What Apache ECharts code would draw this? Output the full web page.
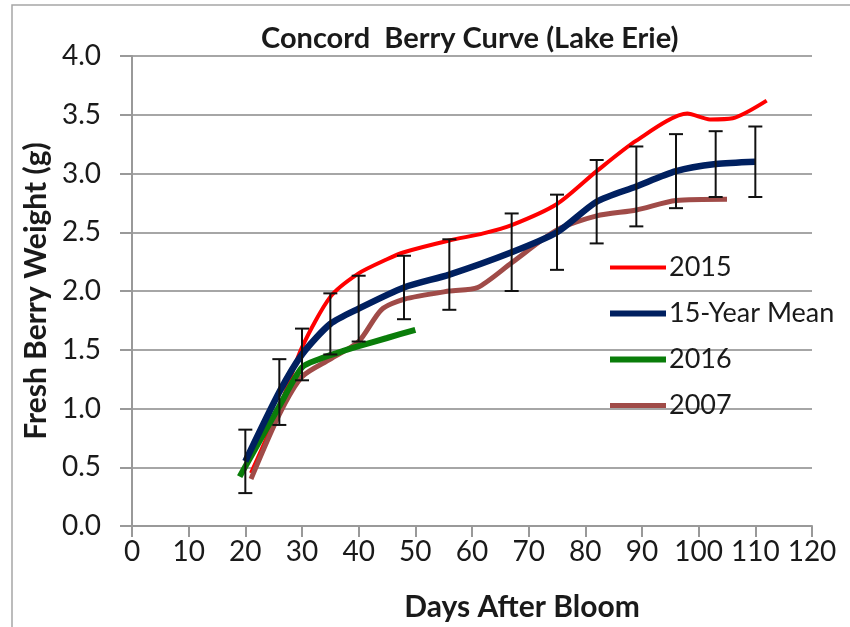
<!DOCTYPE html>
<html>
<head>
<meta charset="utf-8">
<script src="https://cdn.jsdelivr.net/npm/echarts@6/dist/echarts.min.js"></script>
<style>
html,body{margin:0;padding:0;background:#fff;}
#chart{width:850px;height:627px;}
</style>
</head>
<body>
<div id="chart"></div>
<script>
// ---- data ----
var xTicks = [0, 120, 10];          // min, max, step of Days After Bloom
var yTicks = [0, 4, 0.5];           // min, max, step of weight
var seriesNames = ['2015', '15-Year Mean', '2016', '2007'];

var meanDays = [20, 26, 30, 35, 40, 48, 56, 67, 75, 82, 89, 96, 103, 110];
var meanVals = [0.55, 1.14, 1.46, 1.72, 1.85, 2.03, 2.14, 2.33, 2.50, 2.76, 2.89, 3.02, 3.08, 3.10];
var meanErr  = [0.27, 0.28, 0.22, 0.26, 0.28, 0.27, 0.30, 0.33, 0.32, 0.355, 0.34, 0.315, 0.28, 0.30];

var days2015 = [21, 26, 30, 35, 40, 45, 48, 56, 62, 67, 75, 82, 89, 98, 102, 106, 112];
var vals2015 = [0.45, 1.00, 1.52, 1.95, 2.15, 2.27, 2.33, 2.43, 2.49, 2.56, 2.74, 3.02, 3.28, 3.51, 3.46, 3.47, 3.62];

var days2016 = [19, 26, 30, 33, 36, 40, 45, 50];
var vals2016 = [0.42, 1.02, 1.35, 1.42, 1.47, 1.53, 1.60, 1.67];

var days2007 = [21, 26, 30, 35, 40, 44, 48, 56, 61, 67, 75, 82, 89, 96, 105];
var vals2007 = [0.40, 0.95, 1.27, 1.42, 1.57, 1.84, 1.93, 2.00, 2.03, 2.24, 2.52, 2.64, 2.69, 2.77, 2.78];

function pairs(xs, ys) { return xs.map(function (x, i) { return [x, ys[i]]; }); }

var FONT = 'Lato, "Open Sans", sans-serif';
var chart = echarts.init(document.getElementById('chart'), null, {renderer: 'canvas'});

var errData = meanDays.map(function (d, i) { return [d, meanVals[i] - meanErr[i], meanVals[i] + meanErr[i]]; });

chart.setOption({
  animation: false,
  backgroundColor: '#fff',
  graphic: [{
    type: 'rect', shape: {x: 12, y: 5, width: 900, height: 700},
    style: {fill: 'none', stroke: '#a6a6a6', lineWidth: 1.5}, silent: true, z: -1
  }],
  title: {
    text: 'Concord  Berry Curve (Lake Erie)',
    left: 256, top: 19,
    textStyle: {fontFamily: FONT, fontSize: 29, fontWeight: 'bold', color: '#1a1a1a'}
  },
  legend: {
    orient: 'vertical',
    left: 602, top: 249,
    itemWidth: 56, itemHeight: 20, itemGap: 19,
    itemStyle: {opacity: 0, borderWidth: 0},
    textStyle: {fontFamily: FONT, fontSize: 27, color: '#1a1a1a', lineHeight: 27, padding: [0, 0, 0, -2]},
    data: [
      {name: seriesNames[0], lineStyle: {width: 4}},
      {name: seriesNames[1], lineStyle: {width: 6}},
      {name: seriesNames[2], lineStyle: {width: 6}},
      {name: seriesNames[3], lineStyle: {width: 5}}
    ]
  },
  grid: {left: 132, right: 38, top: 56, bottom: 101},
  xAxis: {
    type: 'value', min: xTicks[0], max: xTicks[1], interval: xTicks[2],
    name: 'Days After Bloom', nameLocation: 'middle', nameGap: 66,
    nameTextStyle: {fontFamily: FONT, fontSize: 30, fontWeight: 'bold', color: '#1a1a1a', padding: [0, 0, 0, 100]},
    axisLine: {show: true, lineStyle: {color: '#999', width: 2}},
    axisTick: {show: true, length: 11, lineStyle: {color: '#999', width: 2}},
    axisLabel: {fontFamily: FONT, fontSize: 28, color: '#1a1a1a', margin: 12},
    splitLine: {show: false}
  },
  yAxis: {
    type: 'value', min: yTicks[0], max: yTicks[1], interval: yTicks[2],
    name: 'Fresh Berry Weight (g)', nameLocation: 'middle', nameGap: 78,
    nameTextStyle: {fontFamily: FONT, fontSize: 30, fontWeight: 'bold', color: '#1a1a1a'},
    axisLine: {show: true, lineStyle: {color: '#999', width: 2}},
    axisTick: {show: true, length: 12, lineStyle: {color: '#999', width: 2}},
    axisLabel: {fontFamily: FONT, fontSize: 28, color: '#1a1a1a', margin: 31,
      formatter: function (v) { return v.toFixed(1); }},
    splitLine: {show: true, lineStyle: {color: '#a6a6a6', width: 2}}
  },
  series: [
    {name: seriesNames[0], type: 'line', data: pairs(days2015, vals2015), symbol: 'none', smooth: 0.25,
      lineStyle: {color: '#ff0000', width: 4}, itemStyle: {color: '#ff0000'}, z: 2},
    {name: seriesNames[3], type: 'line', data: pairs(days2007, vals2007), symbol: 'none', smooth: 0.25,
      lineStyle: {color: '#a04b48', width: 5}, itemStyle: {color: '#a04b48'}, z: 3},
    {name: seriesNames[2], type: 'line', data: pairs(days2016, vals2016), symbol: 'none', smooth: 0.25,
      lineStyle: {color: '#0a7d0a', width: 6}, itemStyle: {color: '#0a7d0a'}, z: 4},
    {name: seriesNames[1], type: 'line', data: pairs(meanDays, meanVals), symbol: 'none', smooth: 0.25,
      lineStyle: {color: '#002060', width: 6.5}, itemStyle: {color: '#002060'}, z: 5},
    {
      name: 'err', type: 'custom', z: 6, data: errData,
      encode: {x: 0, y: [1, 2]},
      renderItem: function (params, api) {
        var x = api.value(0);
        var lo = api.coord([x, api.value(1)]);
        var hi = api.coord([x, api.value(2)]);
        var cap = 7;
        var st = {stroke: '#111', lineWidth: 2};
        return {type: 'group', children: [
          {type: 'line', shape: {x1: lo[0], y1: lo[1], x2: hi[0], y2: hi[1]}, style: st},
          {type: 'line', shape: {x1: lo[0] - cap, y1: lo[1], x2: lo[0] + cap, y2: lo[1]}, style: st},
          {type: 'line', shape: {x1: hi[0] - cap, y1: hi[1], x2: hi[0] + cap, y2: hi[1]}, style: st}
        ]};
      }
    }
  ]
});
</script>
</body>
</html>
